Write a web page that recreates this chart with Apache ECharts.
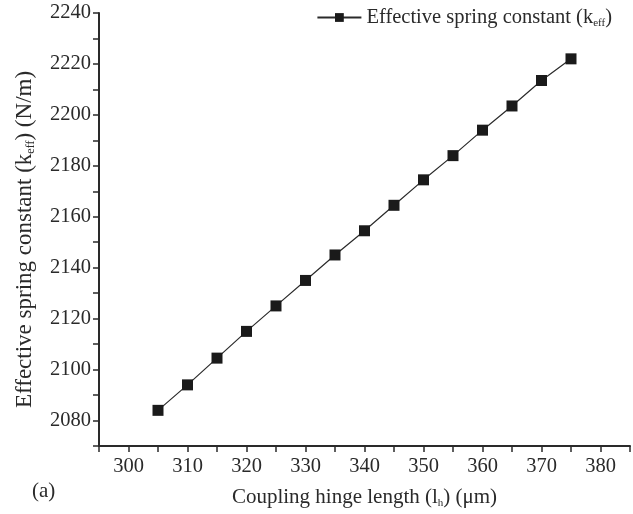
<!DOCTYPE html>
<html><head><meta charset="utf-8">
<script src="https://cdn.jsdelivr.net/npm/echarts@6/dist/echarts.min.js"></script>
<style>html,body{margin:0;padding:0;background:#fff}#c{width:633px;height:514px}</style>
</head><body><div id="c"></div>
<script>
const hingeLength = [305, 310, 315, 320, 325, 330, 335, 340, 345, 350, 355, 360, 365, 370, 375];
const springConstant = [2084, 2094, 2104.5, 2115, 2125, 2135, 2145, 2154.5, 2164.5, 2174.5, 2184, 2194, 2203.5, 2213.5, 2222];
const seriesName = 'Effective spring constant (keff)';

const F = 'Liberation Serif';
const C = '#2a2a2a';
const chart = echarts.init(document.getElementById('c'));
const data = hingeLength.map((x, i) => [x, springConstant[i]]);
chart.setOption({
  animation: false,
  backgroundColor: '#fff',
  grid: { left: 99, top: 13, bottom: 64, right: -6 },
  legend: {
    top: 2, right: 16, itemWidth: 44, itemHeight: 11, itemGap: 4,
    data: [seriesName],
    formatter: () => '{a|Effective spring constant (k}{s|eff}{a|)}',
    textStyle: {
      fontFamily: F, fontSize: 20, color: C,
      rich: {
        a: { fontFamily: F, fontSize: 20.5, color: C },
        s: { fontFamily: F, fontSize: 11, color: C, padding: [12, 0, 0, 0] }
      }
    }
  },
  xAxis: {
    type: 'value', min: 295, max: 385, interval: 5,
    splitLine: { show: false },
    axisLine: { onZero: false, lineStyle: { color: C, width: 2 } },
    axisTick: { inside: false, length: 6, lineStyle: { color: C, width: 1.5 } },
    axisLabel: {
      fontFamily: F, fontSize: 20.5, color: C, margin: 10,
      formatter: v => (v % 10 === 0 ? String(v) : '')
    },
    name: '{a|Coupling hinge length (l}{s|h}{a|) (μm)}',
    nameLocation: 'middle', nameGap: 40,
    nameTextStyle: {
      rich: {
        a: { fontFamily: F, fontSize: 21, color: C },
        s: { fontFamily: F, fontSize: 11, color: C, padding: [12, 0, 0, 0] }
      }
    }
  },
  yAxis: {
    type: 'value', min: 2070, max: 2240, interval: 10,
    splitLine: { show: false },
    axisLine: { onZero: false, lineStyle: { color: C, width: 2 } },
    axisTick: { inside: false, length: 6, lineStyle: { color: C, width: 1.5 } },
    axisLabel: {
      fontFamily: F, fontSize: 20.5, color: C, margin: 8,
      formatter: v => (v % 20 === 0 ? String(v) : '')
    },
    name: '{a|Effective spring constant (k}{s|eff}{a|) (N/m)}',
    nameLocation: 'middle', nameGap: 62, nameRotate: 90,
    nameTextStyle: {
      padding: [0, 20, 0, 0],
      rich: {
        a: { fontFamily: F, fontSize: 23, color: C },
        s: { fontFamily: F, fontSize: 12, color: C, padding: [13, 0, 0, 0] }
      }
    }
  },
  graphic: [{
    type: 'text', left: 32, top: 481,
    style: { text: '(a)', font: '21px "Liberation Serif"', fill: C }
  }],
  series: [{
    name: seriesName, type: 'line', data: data,
    symbol: 'rect', symbolSize: 11,
    lineStyle: { color: C, width: 1.2 },
    itemStyle: { color: '#1a1a1a' }
  }]
});
</script></body></html>
